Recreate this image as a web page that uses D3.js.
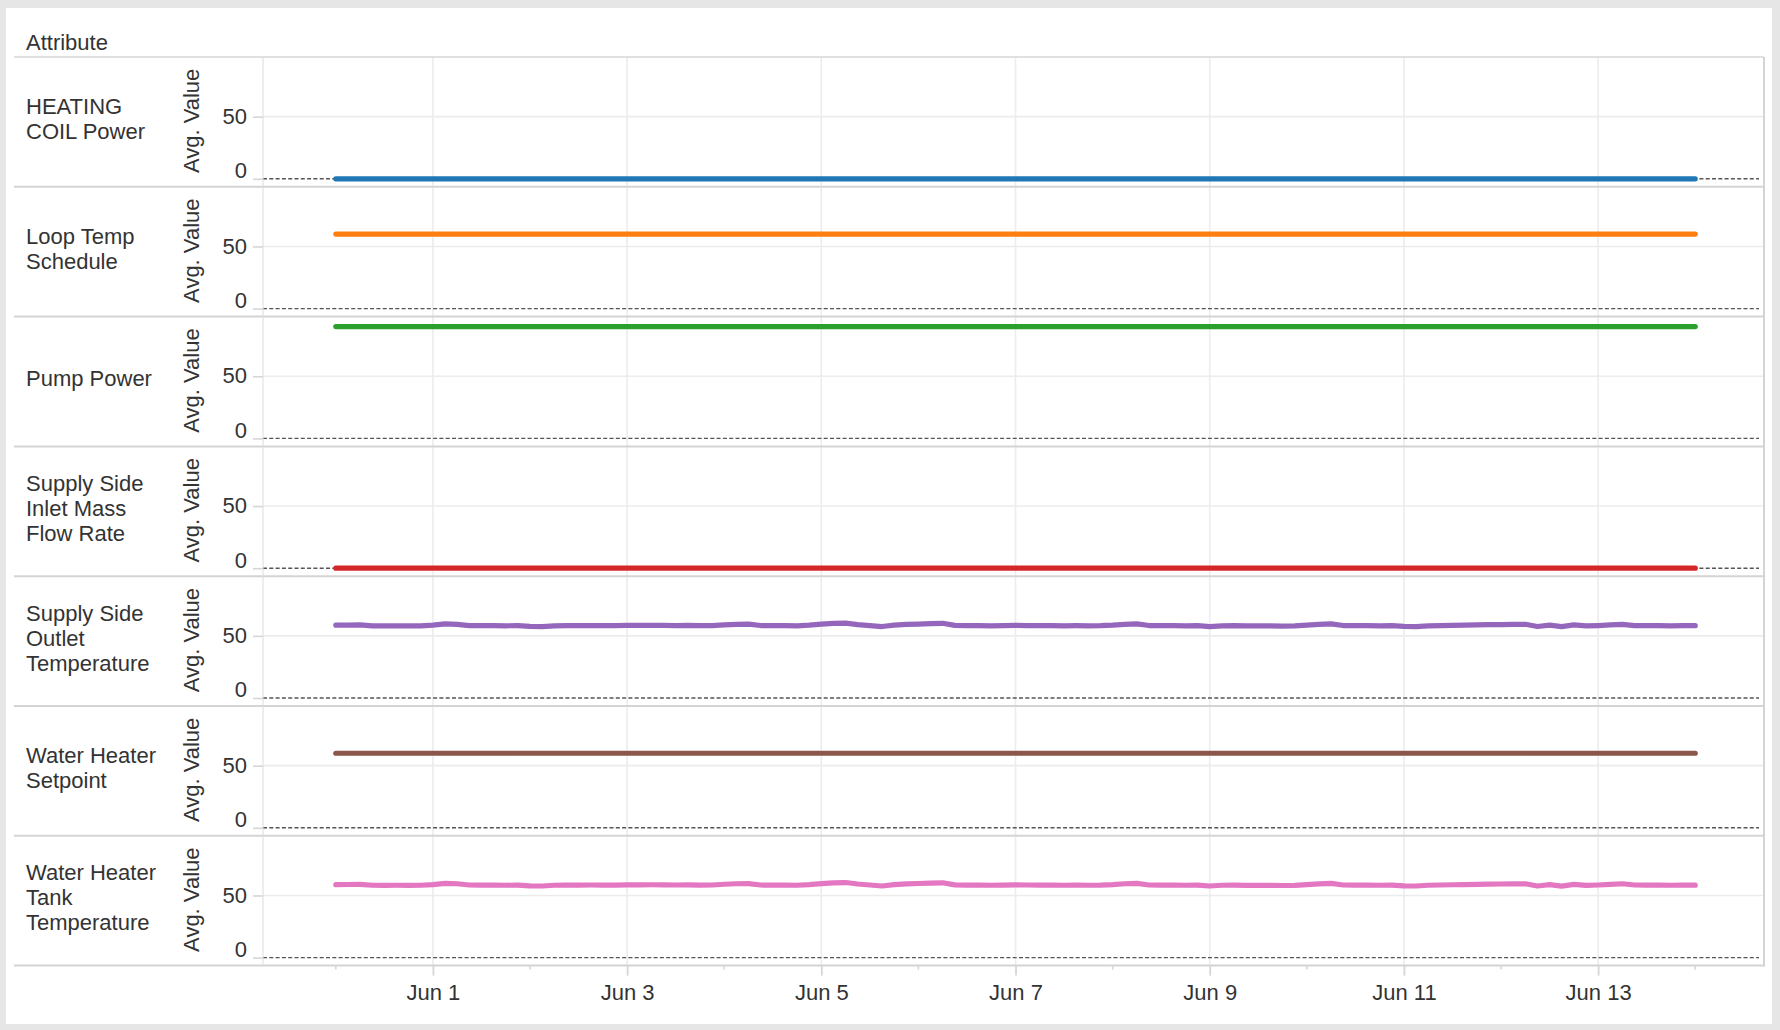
<!DOCTYPE html>
<html>
<head>
<meta charset="utf-8">
<script src="https://cdn.jsdelivr.net/npm/d3@7"></script>
<style>
  body { margin: 0; background: #e6e6e6; }
  text { font-family: "Liberation Sans", Arial, Helvetica, sans-serif; fill: #333; }
</style>
</head>
<body>
<svg id="chart" width="1780" height="1030"></svg>
<script>
// ---------------- DATA ----------------
const headerTitle = "Attribute";
const measureTitle = "Avg. Value";
const attributeLabels = [
  ["HEATING", "COIL Power"],
  ["Loop Temp", "Schedule"],
  ["Pump Power"],
  ["Supply Side", "Inlet Mass", "Flow Rate"],
  ["Supply Side", "Outlet", "Temperature"],
  ["Water Heater", "Setpoint"],
  ["Water Heater", "Tank", "Temperature"]
];
const seriesColors = ["#1f77b4", "#ff7f0e", "#2ca02c", "#d62728", "#9467bd", "#8c564b", "#e377c2"];

const dataStart = new Date(2015, 4, 31, 0, 0);   // May 31
const dataEnd   = new Date(2015, 5, 14, 0, 0);   // Jun 14
const axisStart = new Date(2015, 4, 30, 6, 0);
const axisEnd   = new Date(2015, 5, 14, 17, 0);

// constant series (value at start, value at end)
const heatingCoilPower     = [0, 0];
const loopTempSchedule     = [60, 60];
const pumpPower            = [90, 90];
const supplyInletMassFlow  = [0, 0];
const waterHeaterSetpoint  = [60, 60];

// 3-hourly series, May 31 00:00 .. Jun 14 00:00
const supplyOutletTemp = [
  58.6, 58.7, 58.8, 58.1, 58.0, 58.1, 58.0, 58.1,
  58.6, 59.6, 59.3, 58.3, 58.2, 58.2, 58.1, 58.2,
  57.6, 57.5, 58.1, 58.2, 58.2, 58.3, 58.2, 58.2,
  58.4, 58.4, 58.5, 58.4, 58.3, 58.4, 58.2, 58.3,
  58.9, 59.3, 59.4, 58.3, 58.2, 58.2, 58.1, 58.6,
  59.4, 60.0, 60.3, 59.1, 58.3, 57.5, 58.6, 59.2,
  59.5, 59.8, 60.1, 58.4, 58.2, 58.2, 58.1, 58.2,
  58.4, 58.3, 58.2, 58.2, 58.1, 58.2, 58.1, 58.2,
  58.6, 59.3, 59.6, 58.3, 58.2, 58.2, 58.1, 58.2,
  57.5, 58.1, 58.2, 58.0, 58.0, 58.0, 57.9, 58.0,
  58.6, 59.2, 59.6, 58.3, 58.2, 58.2, 58.1, 58.2,
  57.6, 57.5, 58.1, 58.3, 58.5, 58.6, 58.8, 59.0,
  59.1, 59.2, 59.3, 57.5, 58.6, 57.4, 58.8, 58.0,
  58.3, 58.8, 59.3, 58.3, 58.2, 58.2, 58.1, 58.2,
  58.2
];
const tankTemp = [
  58.7, 58.8, 58.9, 58.2, 58.1, 58.2, 58.1, 58.2,
  58.7, 59.7, 59.4, 58.4, 58.3, 58.3, 58.2, 58.3,
  57.7, 57.6, 58.2, 58.3, 58.3, 58.4, 58.3, 58.3,
  58.5, 58.5, 58.6, 58.5, 58.4, 58.5, 58.3, 58.4,
  59.0, 59.4, 59.5, 58.4, 58.3, 58.3, 58.2, 58.7,
  59.5, 60.1, 60.4, 59.2, 58.4, 57.6, 58.7, 59.3,
  59.6, 59.9, 60.2, 58.5, 58.3, 58.3, 58.2, 58.3,
  58.5, 58.4, 58.3, 58.3, 58.2, 58.3, 58.2, 58.3,
  58.7, 59.4, 59.7, 58.4, 58.3, 58.3, 58.2, 58.3,
  57.6, 58.2, 58.3, 58.1, 58.1, 58.1, 58.0, 58.1,
  58.7, 59.3, 59.7, 58.4, 58.3, 58.3, 58.2, 58.3,
  57.7, 57.6, 58.2, 58.4, 58.6, 58.7, 58.9, 59.1,
  59.2, 59.3, 59.4, 57.6, 58.7, 57.5, 58.9, 58.1,
  58.4, 58.9, 59.4, 58.4, 58.3, 58.3, 58.2, 58.3,
  58.3
];

const yTickValues = [0, 50];
const majorTickDates = [1, 3, 5, 7, 9, 11, 13].map(d => new Date(2015, 5, d));
const minorTickDates = [new Date(2015, 4, 31), ...[2, 4, 6, 8, 10, 12, 14].map(d => new Date(2015, 5, d))];

// ---------------- BUILD ----------------
const twoPointTimes = [dataStart, dataEnd];
const hourlyTimes = d3.timeHour.range(dataStart, d3.timeHour.offset(dataEnd, 1), 3);
const zipSeries = (times, vals) => times.map((t, i) => ({ t, v: vals[i] }));

const series = [
  zipSeries(twoPointTimes, heatingCoilPower),
  zipSeries(twoPointTimes, loopTempSchedule),
  zipSeries(twoPointTimes, pumpPower),
  zipSeries(twoPointTimes, supplyInletMassFlow),
  zipSeries(hourlyTimes, supplyOutletTemp),
  zipSeries(twoPointTimes, waterHeaterSetpoint),
  zipSeries(hourlyTimes, tankTemp)
];

// layout
const W = 1780, H = 1030;
const panel = { x: 6, y: 8, w: 1766, h: 1016 };
const headerY = 57;
const rowH = 129.8;
const plotX0 = 263, plotX1 = 1764;
const labelX = 26;
const fontSize = 22;

const svg = d3.select("#chart");

svg.append("rect").attr("x", 0).attr("y", 0).attr("width", W).attr("height", H).attr("fill", "#e6e6e6");
svg.append("rect").attr("x", panel.x).attr("y", panel.y).attr("width", panel.w).attr("height", panel.h).attr("fill", "#ffffff");

const x = d3.scaleTime().domain([axisStart, axisEnd]).range([plotX0, plotX1]);
const y = d3.scaleLinear().domain([0, 98]).range([rowH - 8, rowH - 8 - 121.8]);

const nRows = series.length;
const bottomY = headerY + nRows * rowH;

// header title
svg.append("text").attr("x", labelX).attr("y", 50)
  .attr("font-size", fontSize).text(headerTitle);

// vertical gridlines
svg.append("g").selectAll("line").data(majorTickDates).join("line")
  .attr("x1", d => x(d)).attr("x2", d => x(d))
  .attr("y1", headerY).attr("y2", bottomY)
  .attr("stroke", "#ececec").attr("stroke-width", 1.6);

// rows
series.forEach((data, i) => {
  const top = headerY + i * rowH;
  const g = svg.append("g").attr("transform", `translate(0,${top})`);

  // horizontal gridline at 50
  g.append("line").attr("x1", plotX0).attr("x2", plotX1)
    .attr("y1", y(50)).attr("y2", y(50))
    .attr("stroke", "#ececec").attr("stroke-width", 1.6);

  // y axis
  const ax = g.append("g").attr("transform", `translate(${plotX0},0)`)
    .call(d3.axisLeft(y).tickValues(yTickValues).tickSize(10).tickPadding(6).tickFormat(d3.format("d")));
  ax.select(".domain").remove();
  ax.selectAll(".tick line").attr("stroke", "#d6d6d6").attr("stroke-width", 1.6);
  ax.selectAll(".tick text")
    .attr("font-size", fontSize)
    .attr("font-family", "'Liberation Sans', Arial, sans-serif")
    .attr("fill", "#333")
    .attr("dy", d => d === 0 ? "-0.05em" : "0.3em");

  // zero dashed line
  g.append("line").attr("x1", plotX0).attr("x2", plotX1 - 5)
    .attr("y1", y(0)).attr("y2", y(0))
    .attr("stroke", "#555").attr("stroke-width", 1.4).attr("stroke-dasharray", "4,2.3");

  // measure title (rotated)
  g.append("text")
    .attr("transform", `translate(199,${rowH / 2 - 1}) rotate(-90)`)
    .attr("text-anchor", "middle").attr("font-size", fontSize)
    .text(measureTitle);

  // row label
  const lines = attributeLabels[i];
  const lh = 25;
  const firstBase = rowH / 2 - 3 - (lines.length - 1) * lh / 2 + 7.5;
  const t = g.append("text").attr("font-size", fontSize);
  lines.forEach((s, k) => {
    t.append("tspan").attr("x", labelX).attr("y", firstBase + k * lh).text(s);
  });

  // series line
  const line = d3.line().x(d => x(d.t)).y(d => y(d.v)).curve(d3.curveLinear);
  g.append("path").datum(data).attr("d", line)
    .attr("fill", "none").attr("stroke", seriesColors[i])
    .attr("stroke-width", 5.2).attr("stroke-linecap", "round").attr("stroke-linejoin", "round");
});

// header line
svg.append("line").attr("x1", 14).attr("x2", plotX1).attr("y1", headerY).attr("y2", headerY)
  .attr("stroke", "#d6d6d6").attr("stroke-width", 1.5);
// row separators
svg.append("g").selectAll("line").data(d3.range(1, nRows + 1)).join("line")
  .attr("x1", 14).attr("x2", plotX1 + 1)
  .attr("y1", k => headerY + k * rowH).attr("y2", k => headerY + k * rowH)
  .attr("stroke", "#d4d4d4").attr("stroke-width", 2);
// plot left & right edges
svg.append("line").attr("x1", plotX0).attr("x2", plotX0).attr("y1", headerY).attr("y2", bottomY)
  .attr("stroke", "#dcdcdc").attr("stroke-width", 1);
svg.append("line").attr("x1", plotX1).attr("x2", plotX1).attr("y1", headerY).attr("y2", bottomY + 1)
  .attr("stroke", "#d4d4d4").attr("stroke-width", 2);

// x axis
const xa = svg.append("g").attr("transform", `translate(0,${bottomY})`)
  .call(d3.axisBottom(x).tickValues(majorTickDates).tickSize(10).tickPadding(9).tickFormat(d3.timeFormat("%b %-d")));
xa.select(".domain").remove();
xa.selectAll(".tick line").attr("stroke", "#d6d6d6").attr("stroke-width", 1.8);
xa.selectAll(".tick text").attr("font-size", fontSize)
  .attr("font-family", "'Liberation Sans', Arial, sans-serif").attr("fill", "#333");
svg.append("g").attr("transform", `translate(0,${bottomY})`)
  .selectAll("line").data(minorTickDates).join("line")
  .attr("x1", d => x(d)).attr("x2", d => x(d)).attr("y1", 0).attr("y2", 4)
  .attr("stroke", "#d6d6d6").attr("stroke-width", 1.6);
</script>
</body>
</html>
